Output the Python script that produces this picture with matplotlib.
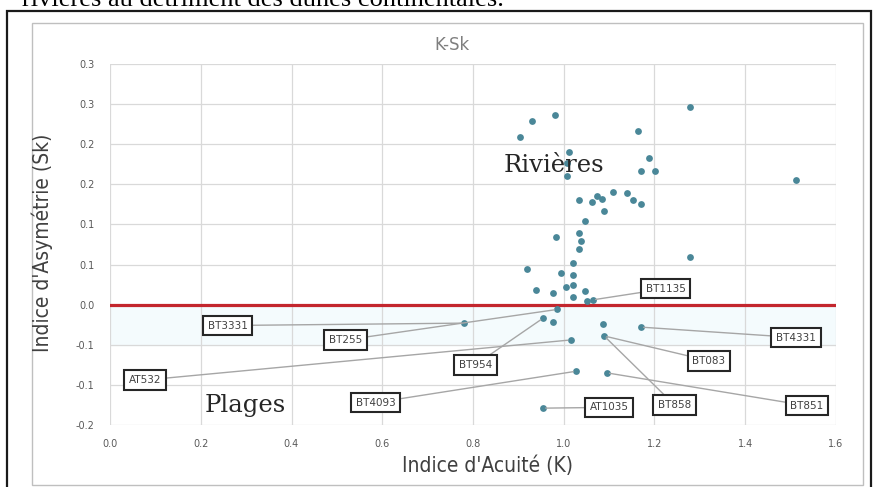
"""
K-Sk scatter (Indice d'Acuité vs Indice d'Asymétrie) with labelled samples.
"""

import matplotlib
matplotlib.use("Agg")
import matplotlib.pyplot as plt
from matplotlib.patches import Rectangle

# ── Data ──────────────────────────────────────────────────────────────────────
k_vals = [1.278, 0.981, 0.931, 0.904, 1.163, 1.012, 1.008, 1.008, 1.188, 1.170,
          1.201, 1.512, 1.034, 1.062, 1.073, 1.084, 1.089, 1.108, 1.139, 1.152,
          1.171, 1.047, 0.984, 1.034, 1.037, 1.034, 1.278, 0.918, 0.995, 1.020,
          1.020, 1.005, 1.020, 0.939, 0.976, 1.021, 1.047, 1.051, 1.064, 0.985,
          0.954, 0.977, 1.086, 1.170, 1.089, 1.015, 1.027, 1.095, 0.954, 0.781]
sk_vals = [0.246, 0.237, 0.229, 0.209, 0.216, 0.190, 0.176, 0.161, 0.183, 0.167,
           0.167, 0.156, 0.130, 0.128, 0.136, 0.132, 0.117, 0.141, 0.139, 0.131,
           0.126, 0.104, 0.084, 0.089, 0.079, 0.069, 0.060, 0.045, 0.040, 0.052,
           0.037, 0.022, 0.024, 0.018, 0.014, 0.009, 0.017, 0.005, 0.006, -0.006,
           -0.017, -0.022, -0.024, -0.028, -0.039, -0.044, -0.083, -0.085, -0.129, -0.023]

# labelled samples: name, label position, sample it points to
label_names = ["BT3331", "BT255", "AT532", "BT954", "BT4093", "AT1035",
               "BT858", "BT851", "BT083", "BT4331", "BT1135"]
label_k  = [0.259, 0.519, 0.077, 0.805, 0.586, 1.100, 1.244, 1.536, 1.320, 1.512, 1.225]
label_sk = [-0.026, -0.044, -0.094, -0.075, -0.122, -0.128, -0.125, -0.126, -0.070, -0.041, 0.020]
target_k  = [0.781, 0.985, 1.015, 0.954, 1.027, 0.954, 1.089, 1.095, 1.089, 1.170, 1.064]
target_sk = [-0.023, -0.006, -0.044, -0.017, -0.083, -0.129, -0.039, -0.085, -0.039, -0.028, 0.006]

x_ticks = [0.0, 0.2, 0.4, 0.6, 0.8, 1.0, 1.2, 1.4, 1.6]
x_tick_labels = ["0.0", "0.2", "0.4", "0.6", "0.8", "1.0", "1.2", "1.4", "1.6"]
y_ticks = [-0.15, -0.10, -0.05, 0.0, 0.05, 0.10, 0.15, 0.20, 0.25, 0.30]
y_tick_labels = ["-0.2", "-0.1", "-0.1", "0.0", "0.1", "0.1", "0.2", "0.2", "0.3", "0.3"]

# ── Figure ────────────────────────────────────────────────────────────────────
W, H = 878, 487
fig = plt.figure(figsize=(W / 100, H / 100), dpi=100)
fig.patch.set_facecolor("white")

# surrounding document: cut-off line of text and the frames
fig.text(504 / W, 1 - 6 / H, "rivières au détriment des dunes continentales.",
         ha="right", va="baseline", fontsize=19, family="Liberation Serif", color="black")
fig.add_artist(Rectangle((7 / W, -0.02), 864 / W, 1.02 - 11 / H, transform=fig.transFigure,
                         fill=False, edgecolor="#1a1a1a", linewidth=1.6))
fig.add_artist(Rectangle((32 / W, 1 - 485 / H), 831 / W, 462 / H, transform=fig.transFigure,
                         fill=False, edgecolor="#bfbfbf", linewidth=1.0))

ax = fig.add_axes([110 / W, 1 - 425 / H, 726 / W, 361 / H])
ax.set_xlim(0, 1.6)
ax.set_ylim(-0.15, 0.30)

ax.set_xticks(x_ticks)
ax.set_xticklabels(x_tick_labels)
ax.set_yticks(y_ticks)
ax.set_yticklabels(y_tick_labels)
ax.tick_params(length=0, labelsize=7, labelcolor="#595959", pad=10)
ax.tick_params(axis="y", pad=11)
for s in ax.spines.values():
    s.set_visible(False)
ax.grid(True, color="#d9d9d9", linewidth=0.9)
ax.set_axisbelow(True)

ax.axhspan(-0.05, 0.0, color="#f4fbfd", zorder=0.5)
ax.axhline(0.0, color="#c3262d", linewidth=2.3, zorder=2)

ax.scatter(k_vals, sk_vals, s=24, color="#4a8798", zorder=3, linewidths=0)

for name, lx, ly, tx, ty in zip(label_names, label_k, label_sk, target_k, target_sk):
    ax.annotate(name, xy=(tx, ty), xytext=(lx, ly), ha="center", va="center",
                fontsize=7.5, color="#404040", zorder=4,
                bbox=dict(boxstyle="square,pad=0.45", fc="white", ec="#262626", lw=1.5),
                arrowprops=dict(arrowstyle="-", color="#a6a6a6", lw=1.0,
                                shrinkA=0, shrinkB=2))

ax.text(0.867, 0.165, "Rivières", family="DejaVu Serif", fontsize=17.5,
        color="#262626", ha="left", va="baseline", zorder=5)
ax.text(0.209, -0.134, "Plages", family="DejaVu Serif", fontsize=17.5,
        color="#262626", ha="left", va="baseline", zorder=5)

fig.text(452 / W, 1 - 45 / H, "K-Sk", ha="center", va="center",
         fontsize=12, color="#7f7f7f")
fig.text(488 / W, 1 - 466 / H, "Indice d'Acuité (K)", ha="center", va="center",
         fontsize=15, color="#404040", family="DejaVu Sans", stretch="condensed")
fig.text(42 / W, 1 - 243 / H, "Indice d'Asymétrie (Sk)", ha="center", va="center",
         rotation=90, fontsize=15, color="#404040", family="DejaVu Sans",
         stretch="condensed")

fig.savefig("out.png", dpi=100)
